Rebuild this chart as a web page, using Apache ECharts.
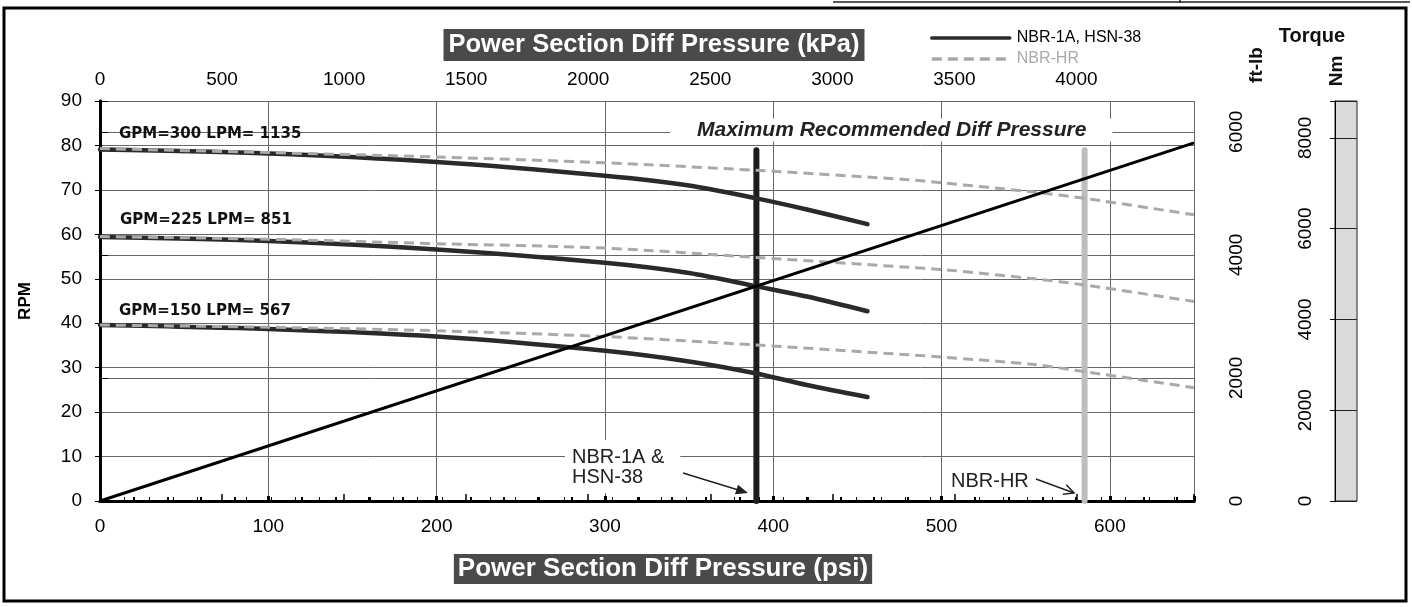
<!DOCTYPE html>
<html lang="en">
<head>
<meta charset="UTF-8">
<title>Power Section Diff Pressure</title>
<script src="https://cdn.jsdelivr.net/npm/echarts@6/dist/echarts.min.js"></script>
<style>
  html, body { margin: 0; padding: 0; background: #fff; }
  #main { width: 1412px; height: 607px; }
</style>
</head>
<body>
<div id="main"></div>
<script>
// psi -> RPM. black = NBR-1A / HSN-38, grey = NBR-HR
var black300 = [[0, 79.1], [100, 78.2], [200, 76.3], [300, 73.2], [350, 71.0], [390, 68.1], [420, 65.6], [456, 62.3]];
var black225 = [[0, 59.4], [100, 58.5], [200, 56.6], [300, 53.6], [350, 51.3], [390, 48.3], [420, 46.0], [456, 42.7]];
var black150 = [[0, 39.6], [100, 38.7], [200, 37.0], [300, 33.8], [350, 31.4], [390, 28.7], [420, 26.1], [456, 23.4]];
var grey300 = [[0, 79.3], [100, 78.4], [200, 77.4], [300, 76.1], [390, 74.4], [480, 72.3], [500, 71.6], [555, 69.5], [585, 68.1], [650, 64.4]];
var grey225 = [[0, 59.5], [100, 58.9], [200, 57.9], [300, 56.9], [390, 54.8], [480, 52.6], [500, 52.1], [555, 50.0], [585, 48.6], [650, 44.9]];
var grey150 = [[0, 39.6], [100, 39.1], [200, 38.3], [300, 37.0], [390, 35.1], [480, 32.9], [500, 32.4], [555, 30.7], [585, 29.1], [650, 25.5]];
var torque = [[0, 0], [650, 5820]];          // ft-lb
var maxPress = [390, 585];                   // psi: NBR-1A & HSN-38, NBR-HR
var barTop = 78.9;                           // RPM
var flowLabels = ['GPM=300 LPM= 1135', 'GPM=225 LPM= 851', 'GPM=150 LPM= 567'];

var psiMax = 650, kpaPerPsi = 6.894757;
var ftlbMax = 6500, nmPerFtlb = 1.355818;

var FONT = "'Liberation Sans', Arial, sans-serif";
var myChart = echarts.init(document.getElementById('main'));

function axisLine(w) { return { show: true, lineStyle: { color: '#000', width: w } }; }
var grid = { show: true, lineStyle: { color: '#666', width: 1 } };
var lblStyle = { color: '#000', fontSize: 19, fontFamily: FONT };

function curve(name, data, grey) {
    var col = grey ? '#a9a9a9' : '#2a2a2a';
    return {
        name: name, type: 'line', data: data, symbol: 'none', smooth: 0.3,
        z: grey ? 4 : 3, silent: true, itemStyle: { color: col },
        lineStyle: grey ? { color: col, width: 3, type: [10, 6] }
                        : { color: col, width: 4.5, cap: 'round' }
    };
}

var option = {
    animation: false,
    backgroundColor: '#fff',
    grid: [
        { left: 100, top: 101, width: 1094, height: 400, outerBoundsMode: 'none' },
        { left: 1335, top: 101, width: 22, height: 400, show: true, backgroundColor: '#dadada',
          borderColor: '#222', borderWidth: 1, outerBoundsMode: 'none' }
    ],
    legend: {
        data: [{ name: 'NBR-1A, HSN-38' }, { name: 'NBR-HR', textStyle: { color: '#aaa' } }],
        orient: 'vertical', left: 925, top: 25, itemWidth: 78, itemHeight: 10, itemGap: 5,
        selectedMode: false, lineStyle: { width: 3.5 }, itemStyle: { opacity: 0 },
        textStyle: { fontSize: 16, fontFamily: FONT, color: '#000', padding: [0, 0, 0, 2] }
    },
    xAxis: [
        {
            gridIndex: 0, type: 'value', position: 'bottom', min: 0, max: psiMax, interval: 100,
            axisLine: axisLine(3),
            axisTick: { inside: true, length: 5, lineStyle: { color: '#000', width: 3 } },
            minorTick: { show: true, splitNumber: 5, length: 4, lineStyle: { color: '#000', width: 2 } },
            axisLabel: Object.assign({ margin: 16, formatter: function (v) { return v % 100 === 0 ? v : ''; } }, lblStyle),
            splitLine: grid
        },
        {
            gridIndex: 0, type: 'value', position: 'top', min: 0, max: psiMax * kpaPerPsi, interval: 500,
            axisLine: axisLine(3),
            axisTick: { inside: false, length: 7, lineStyle: { color: '#000', width: 1.5 } },
            minorTick: { show: true, splitNumber: 5, length: 4, lineStyle: { color: '#000', width: 1 } },
            axisLabel: Object.assign({ margin: 12, formatter: function (v) { return v % 500 === 0 ? v : ''; } }, lblStyle),
            splitLine: { show: false }
        },
        { gridIndex: 1, type: 'value', min: 0, max: 1, show: false }
    ],
    yAxis: [
        {
            gridIndex: 0, type: 'value', position: 'left', min: 0, max: 90, interval: 10,
            name: 'RPM', nameLocation: 'middle', nameGap: 66, nameRotate: 90,
            nameTextStyle: { fontWeight: 'bold', fontSize: 17, fontFamily: FONT, color: '#000' },
            axisLine: axisLine(3),
            axisTick: { inside: false, length: 5, lineStyle: { color: '#000', width: 1 } },
            axisLabel: Object.assign({ margin: 18 }, lblStyle),
            splitLine: grid
        },
        {
            gridIndex: 0, type: 'value', position: 'right', min: 0, max: ftlbMax, interval: 2000,
            axisLine: axisLine(3),
            axisTick: { inside: false, length: 8, lineStyle: { color: '#000', width: 1 } },
            axisLabel: Object.assign({ rotate: 90, margin: 33, formatter: function (v) { return v % 2000 === 0 ? v : ''; } }, lblStyle),
            splitLine: grid
        },
        {
            gridIndex: 1, type: 'value', position: 'left', min: 0, max: ftlbMax * nmPerFtlb, interval: 2000,
            axisLine: axisLine(1),
            axisTick: { inside: false, length: 5, lineStyle: { color: '#000', width: 1 } },
            axisLabel: Object.assign({ rotate: 90, margin: 20, formatter: function (v) { return v % 2000 === 0 ? v : ''; } }, lblStyle),
            splitLine: { show: true, lineStyle: { color: '#222', width: 1 } }
        }
    ],
    series: [
        {
            name: 'max1', type: 'line', symbol: 'none', silent: true, z: 2,
            data: [[maxPress[0], 0], [maxPress[0], barTop]],
            lineStyle: { color: '#1c1c1c', width: 6, cap: 'round' }
        },
        {
            name: 'max2', type: 'line', symbol: 'none', silent: true, z: 2,
            data: [[maxPress[1], 0], [maxPress[1], barTop]],
            lineStyle: { color: '#bdbdbd', width: 6, cap: 'round' }
        },
        curve('NBR-1A, HSN-38', black300, false),
        curve('NBR-1A, HSN-38', black225, false),
        curve('NBR-1A, HSN-38', black150, false),
        curve('NBR-HR', grey300, true),
        curve('NBR-HR', grey225, true),
        curve('NBR-HR', grey150, true),
        {
            name: 'Torque', type: 'line', yAxisIndex: 1, symbol: 'none', silent: true, z: 5,
            data: torque, lineStyle: { color: '#000', width: 3 }
        }
    ],
    graphic: {
        elements: [
            { type: 'rect', shape: { x: 4, y: 8, width: 1402, height: 593 },
              style: { fill: 'none', stroke: '#000', lineWidth: 3 }, z: 0 },
            { type: 'polyline', shape: { points: [[833, 2], [1410, 2]] }, style: { stroke: '#222', lineWidth: 1.5 } },
            { type: 'polyline', shape: { points: [[1180, 0], [1180, 3]] }, style: { stroke: '#222', lineWidth: 1.5 } },
            {
                type: 'text', x: 654, y: 45, z: 10,
                style: { text: 'Power Section Diff Pressure (kPa)', font: 'bold 25.5px ' + FONT, fill: '#fff',
                         align: 'center', verticalAlign: 'middle', backgroundColor: '#4a4a4a', padding: [3, 5, 3, 5] }
            },
            {
                type: 'text', x: 663, y: 569, z: 10,
                style: { text: 'Power Section Diff Pressure (psi)', font: 'bold 26px ' + FONT, fill: '#fff',
                         align: 'center', verticalAlign: 'middle', backgroundColor: '#4a4a4a', padding: [2, 4, 2, 4] }
            },
            { type: 'text', x: 119, y: 134, z: 10,
              style: { text: flowLabels[0], font: "bold 15px 'DejaVu Sans'", fill: '#111', verticalAlign: 'middle' } },
            { type: 'text', x: 120, y: 220, z: 10,
              style: { text: flowLabels[1], font: "bold 15px 'DejaVu Sans'", fill: '#111', verticalAlign: 'middle' } },
            { type: 'text', x: 119, y: 311, z: 10,
              style: { text: flowLabels[2], font: "bold 15px 'DejaVu Sans'", fill: '#111', verticalAlign: 'middle' } },
            {
                type: 'text', x: 670, y: 130, z: 1,
                style: { text: 'Maximum Recommended Diff Pressure', font: 'italic bold 21px ' + FONT, fill: '#222',
                         verticalAlign: 'middle', backgroundColor: '#fff', padding: [1, 26, 1, 27] }
            },
            {
                type: 'text', x: 565, y: 440, z: 1,
                style: { text: 'NBR-1A &\nHSN-38', font: '20px ' + FONT, lineHeight: 20, fill: '#222',
                         backgroundColor: '#fff', padding: [7, 16, 6, 7] }
            },
            { type: 'polyline', z: 10, shape: { points: [[683, 473], [740, 490.5]] }, style: { stroke: '#222', lineWidth: 1.5 } },
            { type: 'polygon', z: 10, shape: { points: [[748, 493], [735, 494.3], [738, 484.7]] }, style: { fill: '#222' } },
            { type: 'text', x: 951, y: 481, z: 10,
              style: { text: 'NBR-HR', font: '20px ' + FONT, fill: '#222', verticalAlign: 'middle' } },
            { type: 'polyline', z: 10, shape: { points: [[1036, 479], [1074, 493]] }, style: { stroke: '#222', lineWidth: 1.5 } },
            { type: 'polyline', z: 10, shape: { points: [[1062.9, 494.2], [1074, 493], [1066.3, 484.8]] },
              style: { stroke: '#222', lineWidth: 1.5, fill: 'none' } },
            { type: 'text', x: 1312, y: 36, z: 10,
              style: { text: 'Torque', font: 'bold 20px ' + FONT, fill: '#111', align: 'center', verticalAlign: 'middle' } },
            { type: 'text', x: 1257, y: 65, rotation: Math.PI / 2, z: 10,
              style: { text: 'ft-lb', font: 'bold 19px ' + FONT, fill: '#111', align: 'center', verticalAlign: 'middle' } },
            { type: 'text', x: 1337, y: 71, rotation: Math.PI / 2, z: 10,
              style: { text: 'Nm', font: 'bold 19px ' + FONT, fill: '#111', align: 'center', verticalAlign: 'middle' } }
        ]
    }
};
myChart.setOption(option);
</script>
</body>
</html>
